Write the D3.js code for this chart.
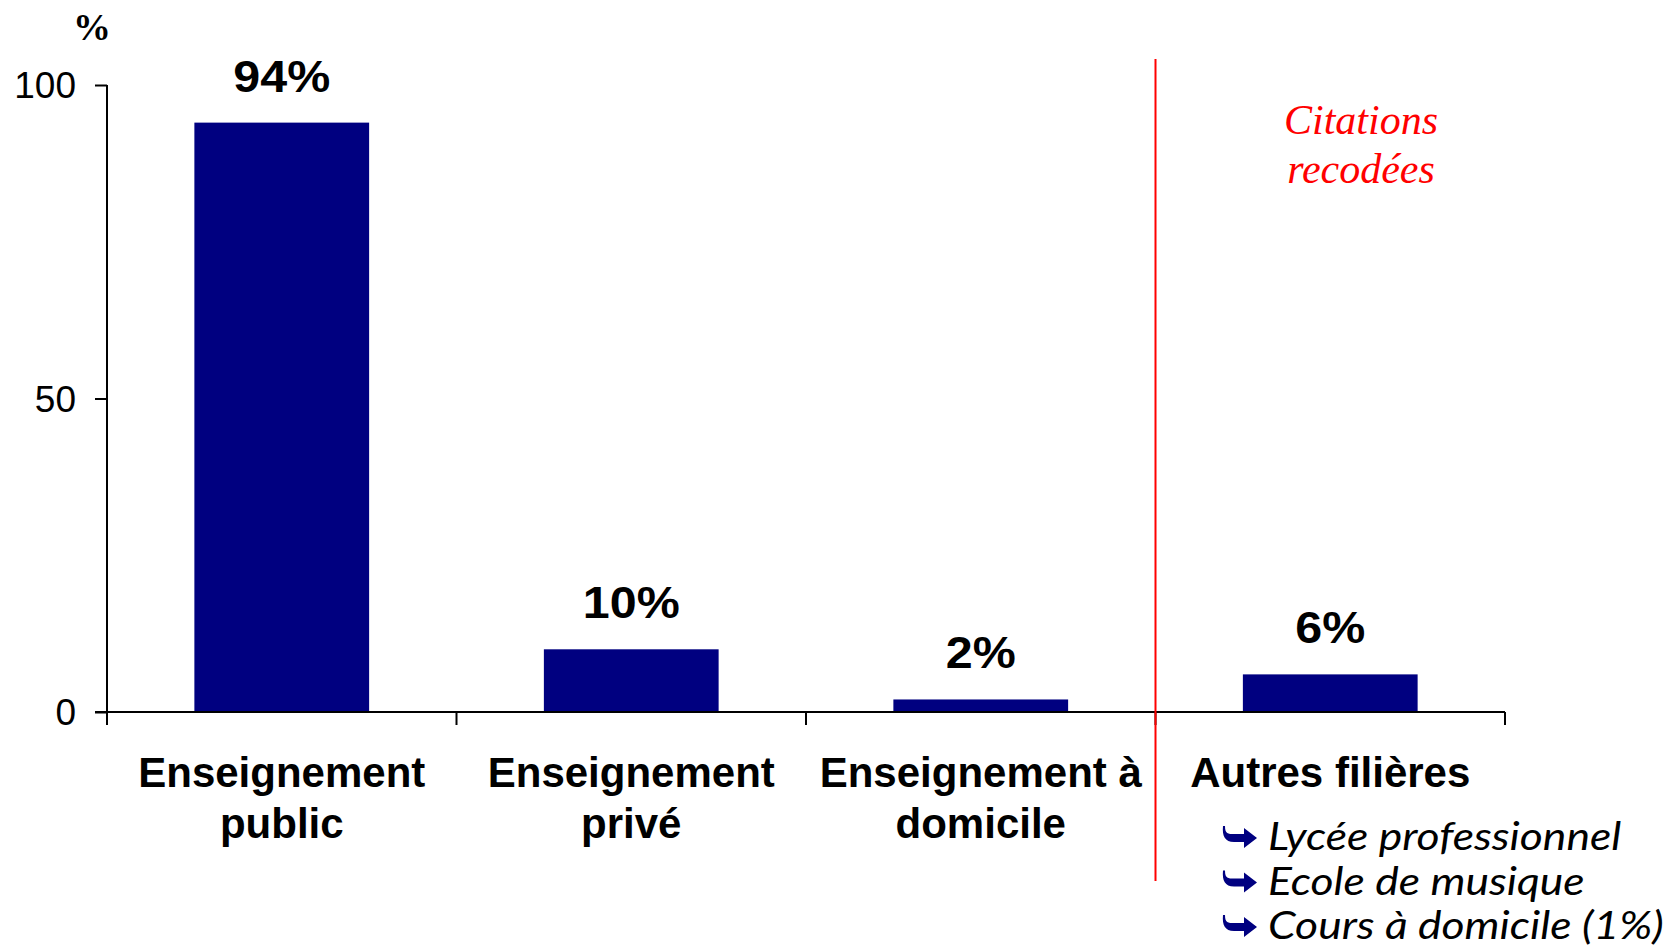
<!DOCTYPE html>
<html>
<head>
<meta charset="utf-8">
<script src="https://cdn.jsdelivr.net/npm/d3@7"></script>
<style>
  body { margin: 0; background: #fff; }
  svg { display: block; }
</style>
</head>
<body>
<div id="chart"></div>
<script>
// data
const categories = ["Enseignement public", "Enseignement privé", "Enseignement à domicile", "Autres filières"];
const categoryLines = [["Enseignement", "public"], ["Enseignement", "privé"], ["Enseignement à", "domicile"], ["Autres filières"]];
const values = [94, 10, 2, 6];
const valueLabels = ["94%", "10%", "2%", "6%"];
const yTicks = [0, 50, 100];
const recodedItems = ["Lycée professionnel", "Ecole de musique", "Cours à domicile (1%)"];

function createChart() {
    let width = 1673;
    let height = 949;
    const navy = "#000080";

    const svg = d3.select("#chart").append("svg")
        .attr("width", width)
        .attr("height", height);

    const x = d3.scaleBand()
        .domain(categories)
        .range([107, 1505])
        .paddingInner(0.5)
        .paddingOuter(0.25);

    const y = d3.scaleLinear()
        .domain([0, 100])
        .range([712, 85]);

    // bars
    svg.append("g")
        .attr("fill", navy)
        .selectAll("rect")
        .data(values)
        .join("rect")
        .attr("x", (d, i) => x(categories[i]))
        .attr("y", d => y(d))
        .attr("width", x.bandwidth())
        .attr("height", d => y(0) - y(d));

    // y axis
    const yAxis = svg.append("g")
        .attr("transform", "translate(107,0)")
        .call(d3.axisLeft(y).tickValues(yTicks).tickSize(12).tickPadding(19).tickSizeOuter(0));
    yAxis.select(".domain").attr("stroke", "#000").attr("stroke-width", 2)
        .attr("d", `M0,${y(100)}V725`);
    yAxis.selectAll(".tick line").attr("stroke", "#000").attr("stroke-width", 2);
    yAxis.selectAll(".tick text")
        .attr("font-family", "Liberation Sans, Arial, sans-serif")
        .attr("font-size", 37)
        .attr("fill", "#000")
        .attr("dy", "0.34em");

    // x axis line and boundary ticks
    const boundaries = d3.range(categories.length + 1).map(i => x.range()[0] + i * x.step());
    svg.append("line")
        .attr("x1", 95).attr("x2", x.range()[1])
        .attr("y1", y(0)).attr("y2", y(0))
        .attr("stroke", "#000").attr("stroke-width", 2);
    svg.append("g")
        .selectAll("line")
        .data(boundaries)
        .join("line")
        .attr("x1", d => d).attr("x2", d => d)
        .attr("y1", y(0)).attr("y2", y(0) + 13)
        .attr("stroke", "#000").attr("stroke-width", 2);

    // "%" unit
    svg.append("text")
        .attr("x", 92).attr("y", 40)
        .attr("text-anchor", "middle")
        .attr("font-family", "Liberation Serif, Times New Roman, serif")
        .attr("font-weight", "bold")
        .attr("font-size", 38)
        .text("%");

    // value labels
    svg.append("g")
        .selectAll("g")
        .data(values)
        .join("g")
        .attr("transform", (d, i) => `translate(${x(categories[i]) + x.bandwidth() / 2},${y(d) - 31}) scale(1.1,1)`)
        .append("text")
        .attr("text-anchor", "middle")
        .attr("font-family", "Liberation Sans, Arial, sans-serif")
        .attr("font-weight", "bold")
        .attr("font-size", 44)
        .text((d, i) => valueLabels[i]);

    // category labels
    const catLabel = svg.append("g")
        .selectAll("text")
        .data(categories)
        .join("text")
        .attr("transform", d => `translate(${x(d) + x.bandwidth() / 2},787)`)
        .attr("text-anchor", "middle")
        .attr("font-family", "Liberation Sans, Arial, sans-serif")
        .attr("font-weight", "bold")
        .attr("font-size", 42);
    catLabel.selectAll("tspan")
        .data((d, i) => categoryLines[i])
        .join("tspan")
        .attr("x", 0)
        .attr("y", (d, j) => j * 51)
        .text(d => d);

    // red separator
    const sepX = boundaries[3];
    svg.append("line")
        .attr("x1", sepX).attr("x2", sepX)
        .attr("y1", 59).attr("y2", 881)
        .attr("stroke", "#ff0000").attr("stroke-width", 2);

    const recoded = svg.append("text")
        .attr("text-anchor", "middle")
        .attr("font-family", "Liberation Serif, Times New Roman, serif")
        .attr("font-style", "italic")
        .attr("font-size", 42)
        .attr("fill", "#ff0000");
    recoded.append("tspan").attr("x", 1361).attr("y", 134).text("Citations");
    recoded.append("tspan").attr("x", 1361).attr("y", 183).text("recodées");

    // sub-items under "Autres filières"
    const items = svg.append("g")
        .selectAll("g")
        .data(recodedItems)
        .join("g")
        .attr("transform", (d, i) => `translate(1225,${850 + i * 44.5})`);
    items.append("path")
        .attr("d", "M0,-24 C0,-16 3,-16 9,-16 L19,-16 L19,-22 L32,-12 L19,-2 L19,-8 L9,-8 C0,-8 -3,-14 -2,-24 Z")
        .attr("fill", navy);
    items.append("text")
        .attr("transform", "translate(43,0) scale(1.17,1)")
        .attr("font-family", "Lato, Open Sans, sans-serif")
        .attr("font-style", "italic")
        .attr("font-size", 38)
        .attr("fill", "#000")
        .text(d => d);
}

document.addEventListener("DOMContentLoaded", function () {
    createChart();
});
</script>
</body>
</html>
